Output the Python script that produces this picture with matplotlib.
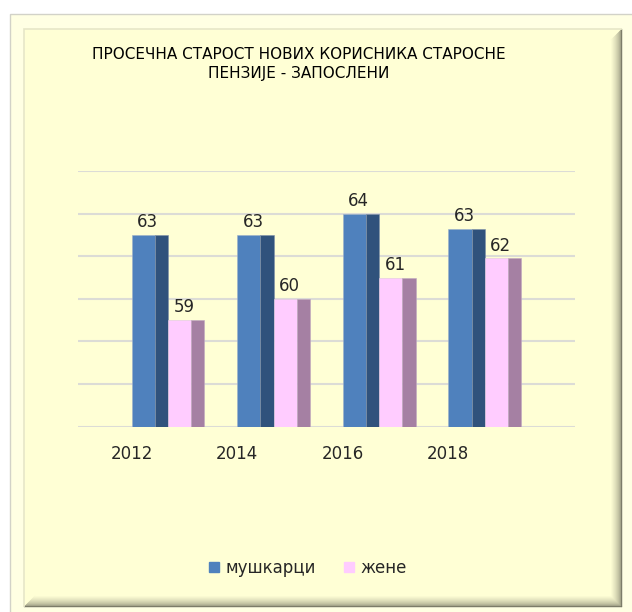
import matplotlib
matplotlib.use("Agg")
import matplotlib.pyplot as plt
from matplotlib.patches import Polygon
from matplotlib.lines import Line2D
import numpy as np

# data
years = ["2012", "2014", "2016", "2018"]
men = [63.0, 63.0, 64.0, 63.3]
women = [59.0, 60.0, 61.0, 61.9]
series_names = ["мушкарци", "жене"]
title = "ПРОСЕЧНА СТАРОСТ НОВИХ КОРИСНИКА СТАРОСНЕ\nПЕНЗИЈЕ - ЗАПОСЛЕНИ"

W, H = 632, 612
plt.rcParams['font.family'] = ['DejaVu Sans']
fig = plt.figure(figsize=(W / 100, H / 100), dpi=100)
fig.patch.set_facecolor("white")


def fpoly(pts, closed=True, **kw):
    # polygon in pixel coords (top-left origin)
    p = Polygon([(px / W, 1 - py / H) for px, py in pts], closed=closed,
                transform=fig.transFigure, **kw)
    fig.add_artist(p)
    p.set_zorder(kw.get("zorder", 0))
    return p


def frect(x0, y0, x1, y1, **kw):
    return fpoly([(x0, y0), (x1, y0), (x1, y1), (x0, y1)], **kw)


# outer frame
frect(10, 14, 640, 620, facecolor="#FFFFE3", edgecolor="#D2D2C8", lw=1, zorder=-10)

# bevelled inner panel: shaded right and bottom edges with mitred corners
x0, y0, x1, y1 = 24, 29, 622, 607
dark = np.array([0.45, 0.45, 0.38])
fill = np.array([1.0, 1.0, 0.835])
frect(x0, y0, x1, y1, facecolor=fill, edgecolor="none", zorder=-9)
n = 12
for k in range(n):
    t = (k / (n - 1)) ** 0.45
    c = dark * (1 - t) + fill * t
    a, b = k, k + 1
    # right strip
    fpoly([(x1 - a, y0 + a), (x1 - b, y0 + b), (x1 - b, y1 - b), (x1 - a, y1 - a)],
          facecolor=c, edgecolor=c, lw=0.3, zorder=-8)
    # bottom strip
    fpoly([(x0 + a, y1 - a), (x0 + b, y1 - b), (x1 - b, y1 - b), (x1 - a, y1 - a)],
          facecolor=c, edgecolor=c, lw=0.3, zorder=-8)
# light top/left edge
fpoly([(x0, y1), (x0, y0), (x1, y0)], closed=False, facecolor="none",
      edgecolor="#E6E6C8", lw=1.2, zorder=-7)

ax = fig.add_axes([77.7 / W, 1 - 426.7 / H, (575 - 77.7) / W, (426.7 - 171) / H])
ax.set_facecolor("none")

x = np.arange(len(years))
base = 54
fw, sw = 0.22, 0.125
men_front = "#4F81BD"
men_side = "#30527C"
wom_front = "#FFCCFF"
wom_side = "#A580A3"

ax.bar(x, np.array(men) - base, width=fw, bottom=base, align="edge",
       color=men_front, edgecolor="#9DB0C8", lw=0.4, zorder=3)
ax.bar(x + fw, np.array(men) - base, width=sw, bottom=base, align="edge",
       color=men_side, edgecolor="#7F90A8", lw=0.4, zorder=3)
ax.bar(x + fw + sw, np.array(women) - base, width=fw, bottom=base, align="edge",
       color=wom_front, edgecolor="#E0C8E0", lw=0.4, zorder=3)
ax.bar(x + 2 * fw + sw, np.array(women) - base, width=sw, bottom=base, align="edge",
       color=wom_side, edgecolor="#C0A8C0", lw=0.4, zorder=3)

for i in range(len(years)):
    ax.text(x[i] + (fw + sw) / 2 - 0.02, men[i] + 0.18, f"{men[i]:.0f}",
            ha="center", va="bottom", fontsize=12, color="#262626")
    ax.text(x[i] + fw + sw + (fw + sw) / 2 - 0.02, women[i] + 0.18, f"{women[i]:.0f}",
            ha="center", va="bottom", fontsize=12, color="#262626")

ax.set_xlim(-0.51, 4.2)
ax.set_ylim(54, 66)
ax.set_yticks(np.arange(54, 67, 2))
ax.yaxis.grid(True, color="#DCDCD6", lw=1.5, zorder=0)
ax.set_yticklabels([])
ax.tick_params(axis="y", length=0)
ax.set_xticks(x)
ax.set_xticklabels(years, fontsize=12, color="#262626")
ax.tick_params(axis="x", length=0, pad=13)
for s in ax.spines.values():
    s.set_visible(False)

fig.text(299 / W, 1 - 64 / H, title, ha="center", va="center", fontsize=11,
         color="black", linespacing=1.3, multialignment="center")

handles = [Line2D([], [], marker="s", ls="none", markersize=7.2, color=men_front),
           Line2D([], [], marker="s", ls="none", markersize=7.2, color=wom_front)]
fig.legend(handles, series_names, loc="center", bbox_to_anchor=(307 / W, 1 - 568 / H),
           ncol=2, frameon=False, fontsize=12, handlelength=0.8, handletextpad=0.3,
           columnspacing=1.6, labelcolor="#262626")

fig.savefig("out.png", dpi=100)
